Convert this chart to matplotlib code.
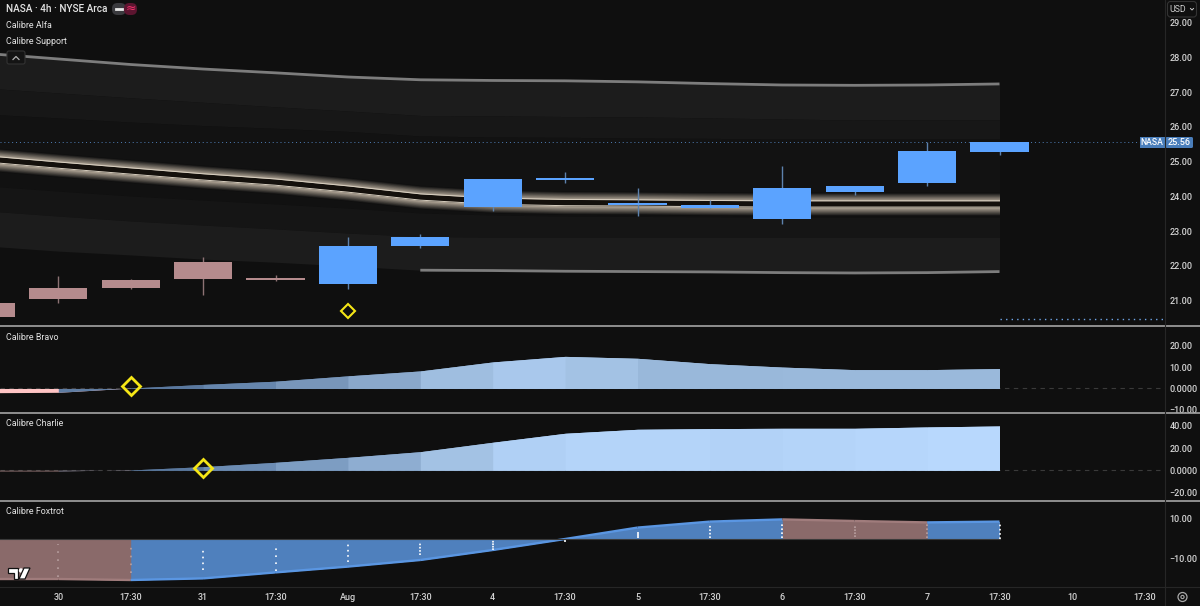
import numpy as np
import matplotlib
matplotlib.use('Agg')
import matplotlib.pyplot as plt
from matplotlib.patches import FancyBboxPatch, Rectangle, Polygon, Circle
from matplotlib.colors import to_rgb

plt.rcParams['font.family'] = ['Roboto', 'DejaVu Sans']

BG = '#0f0f0f'
AXIS_TEXT = '#d4d4d4'
BAR_STEP = 72.4
BAR_ZERO = 58.3

# bar index -1 is the cut off candle at the left edge
bars = np.arange(-1, 14)

opens = [20.52, 21.03, 21.35, 21.61, 21.58, 21.47, 22.57, 23.68, 24.47, 23.74, 23.66, 23.34, 24.12, 24.39, 25.28]
closes = [20.92, 21.37, 21.59, 22.10, 21.64, 22.57, 22.83, 24.51, 24.53, 23.81, 23.76, 24.23, 24.29, 25.32, 25.57]
highs = [20.92, 21.70, 21.61, 22.26, 21.72, 22.83, 22.91, 24.51, 24.70, 24.24, 23.89, 24.87, 24.30, 25.57, 25.57]
lows = [20.52, 20.92, 21.33, 21.15, 21.56, 21.33, 22.51, 23.58, 24.39, 23.44, 23.66, 23.21, 24.03, 24.30, 25.20]
candle_up = [False, False, False, False, False, True, True, True, True, True, True, True, True, True, True]

band_top = [28.12, 27.96, 27.80, 27.67, 27.56, 27.44, 27.36, 27.34, 27.33, 27.30, 27.25, 27.21, 27.20, 27.21, 27.24]
band_e1 = [27.12, 26.98, 26.84, 26.71, 26.58, 26.46, 26.33, 26.32, 26.30, 26.29, 26.26, 26.23, 26.20, 26.20, 26.20]
band_e2 = [26.37, 26.26, 26.14, 26.04, 25.96, 25.87, 25.74, 25.71, 25.70, 25.68, 25.67, 25.65, 25.65, 25.65, 25.65]
mid_upper = [25.17, 24.99, 24.82, 24.65, 24.50, 24.30, 24.07, 23.95, 23.91, 23.90, 23.88, 23.87, 23.87, 23.87, 23.87]
mid_lower = [24.99, 24.81, 24.64, 24.47, 24.32, 24.12, 23.89, 23.77, 23.73, 23.72, 23.70, 23.69, 23.69, 23.69, 23.69]
band_l1 = [24.30, 24.15, 24.01, 23.89, 23.78, 23.66, 23.52, 23.46, 23.43, 23.42, 23.41, 23.40, 23.40, 23.40, 23.40]
band_l2 = [23.58, 23.43, 23.29, 23.17, 23.06, 22.94, 22.84, 22.82, 22.82, 22.82, 22.82, 22.82, 22.82, 22.82, 22.82]
band_bottom = [22.57, 22.42, 22.31, 22.19, 22.10, 21.99, 21.87, 21.86, 21.84, 21.83, 21.82, 21.80, 21.79, 21.80, 21.83]

last_price = 25.56
low_marker = 20.46

bravo = [-2.0, -1.8, 0.2, 1.9, 3.4, 5.9, 8.2, 12.4, 15.0, 14.1, 11.6, 10.0, 8.8, 8.8, 9.3]
bravo_colors = ['#ffc4c4', '#5f7da3', '#5a789e', '#6686ad', '#7896ba', '#8aa8cb', '#9fbee0', '#a9c8ec',
                '#a3c2e4', '#99b8da', '#99b8da', '#9ab9db', '#9ab9db', '#9ab9db']
charlie = [-0.5, -0.5, 0.3, 3.3, 7.2, 11.7, 16.8, 25.3, 33.4, 37.0, 37.6, 37.9, 37.9, 39.1, 40.0]
charlie_colors = ['#d8a8a8', '#55708f', '#5a789e', '#6c8cb3', '#7d9dc2', '#8eadd1', '#a3c2e4', '#b0d0f5',
                  '#b4d4f9', '#b4d4f9', '#b2d2f7', '#b4d4f9', '#b6d6fb', '#b8d8fd']
foxtrot = [-20.0, -20.0, -20.5, -19.7, -16.7, -13.8, -10.5, -5.5, 0.0, 5.7, 8.7, 9.8, 9.0, 8.3, 8.7]
foxtrot_up = [False, False, True, True, True, True, True, True, True, True, True, False, False, True]
dot_high = [None, -2.7, -1.3, -3.8, -2.0, -1.0, -1.5, -0.5, -0.5, 3.7, 7.5, 8.5, 7.0, 8.5, 8.5]
dot_low = [None, -18.8, -17.0, -15.5, -16.0, -11.5, -8.0, -5.5, -1.5, 0.5, 0.5, 0.5, 1.0, 0.5, 0.0]
dot_pale = [True, True, True, False, False, False, False, False, False, False, False, False, True, True, False]

main_ticks = [21, 22, 23, 24, 25, 26, 27, 28, 29]
main_labels = ['21.00', '22.00', '23.00', '24.00', '25.00', '26.00', '27.00', '28.00', '29.00']
bravo_ticks = [-10, 0, 10, 20]
bravo_labels = ['\u221210.00', '0.0000', '10.00', '20.00']
charlie_ticks = [-20, 0, 20, 40]
charlie_labels = ['\u221220.00', '0.0000', '20.00', '40.00']
foxtrot_ticks = [-10, 10]
foxtrot_labels = ['\u221210.00', '10.00']
time_ticks = list(range(0, 16))
time_labels = ['30', '17:30', '31', '17:30', 'Aug', '17:30', '4', '17:30', '5', '17:30', '6', '17:30', '7', '17:30', '10', '17:30']


def panel(top, bottom, ylim, ticks, labels):
    ax = fig.add_axes([0, 1 - bottom / 606, 1165 / 1200, (bottom - top) / 606], facecolor=BG)
    ax.set_xlim(-BAR_ZERO / BAR_STEP, (1165 - BAR_ZERO) / BAR_STEP)
    ax.set_ylim(*ylim)
    ax.yaxis.tick_right()
    ax.set_yticks(ticks)
    ax.set_yticklabels(labels, fontsize=6.5, color=AXIS_TEXT, fontweight='medium')
    ax.tick_params(axis='y', length=0, pad=3.2)
    ax.set_xticks([])
    for spine in ax.spines.values():
        spine.set_visible(False)
    return ax


def shade(color, fade):
    rgb = np.array(to_rgb(color))
    back = np.array(to_rgb(BG))
    return tuple(rgb * (1 - fade) + back * fade)


def area_segments(ax, values, colors):
    # each piece runs one bar too far and the next one paints over it, so no seam shows
    for i, col in enumerate(colors):
        ax.fill_between(bars[i:i + 3], 0, values[i:i + 3], color=col, lw=0, zorder=2)


fig = plt.figure(figsize=(12, 6.06), dpi=100, facecolor=BG)

# price panel
ax = panel(0, 325, (20.29, 29.66), main_ticks, main_labels)
ax.fill_between(bars, band_e1, band_top, color='#1c1c1c', lw=0, zorder=1)
ax.fill_between(bars, band_e2, band_e1, color='#171717', lw=0, zorder=1)
ax.fill_between(bars, mid_upper, band_e2, color='#121212', lw=0, zorder=1)
ax.fill_between(bars, band_l1, mid_lower, color='#111111', lw=0, zorder=1)
ax.fill_between(bars, band_l2, band_l1, color='#151515', lw=0, zorder=1)
ax.fill_between(bars, band_bottom, band_l2, color='#1c1c1c', lw=0, zorder=1)

upper = np.array(mid_upper)
lower = np.array(mid_lower)
# glow round the middle channel, outermost step first
for offset in np.linspace(0.25, 0.02, 14):
    col = shade('#bcb0a0', offset / 0.25)
    ax.fill_between(bars, upper, upper + offset, color=col, lw=0, zorder=2)
    ax.fill_between(bars, lower - offset, lower, color=col, lw=0, zorder=2)
ax.fill_between(bars, lower, upper, color='#14100c', lw=0, zorder=2)
ax.plot(bars, upper, color='#d8cfc0', lw=0.7, zorder=2.5)
ax.plot(bars, lower, color='#d8cfc0', lw=0.7, zorder=2.5)

ax.plot(bars, band_top, color='#7d7d7d', lw=2, zorder=3, solid_capstyle='butt')
ax.plot(bars[6:], band_bottom[6:], color='#7d7d7d', lw=2, zorder=3, solid_capstyle='butt')

ax.axhline(last_price, color='#4f7fb8', lw=0.7, ls=(0, (1, 3)), zorder=4)
ax.plot([13, 15.33], [low_marker, low_marker], color='#6fa5e8', lw=1, ls=(0, (1, 3)), zorder=4)

for x, o, c, h, l, up in zip(bars, opens, closes, highs, lows, candle_up):
    body = '#5ba3ff' if up else '#b58b8d'
    wick = '#5d82ad' if up else '#8d7274'
    ax.vlines(x, l, h, color=wick, lw=1, zorder=5)
    ax.bar(x, c - o, bottom=o, width=0.805, color=body, lw=0, zorder=6)

ax.plot(4, 20.69, marker='D', ms=7, mfc='none', mec='#f5e616', mew=1.5, zorder=7)

# bravo panel
ax2 = panel(326, 412, (-11.0, 29.2), bravo_ticks, bravo_labels)
ax2.axhline(0, color='#3a3a3a', lw=0.8, ls=(0, (4, 4)), zorder=1)
area_segments(ax2, bravo, bravo_colors)
ax2.plot(1, 1.1, marker='D', ms=9.5, mfc='none', mec='#f5e616', mew=2, zorder=5)

# charlie panel
ax3 = panel(413, 500, (-26.8, 51.7), charlie_ticks, charlie_labels)
ax3.axhline(0, color='#3a3a3a', lw=0.8, ls=(0, (4, 4)), zorder=1)
area_segments(ax3, charlie, charlie_colors)
ax3.plot(2, 2.1, marker='D', ms=9.5, mfc='none', mec='#f5e616', mew=2, zorder=5)

# foxtrot panel, also carries the time axis
ax4 = panel(501, 587, (-24, 19), foxtrot_ticks, foxtrot_labels)
fox_fills = ['#4f80bd' if up else '#8a6a6a' for up in foxtrot_up]
area_segments(ax4, foxtrot, fox_fills)
for i, up in enumerate(foxtrot_up):
    edge = '#5a96e2' if up else '#a07c7c'
    ax4.plot(bars[i:i + 2], foxtrot[i:i + 2], color=edge, lw=1.7, zorder=3, solid_capstyle='butt')
ax4.plot([-1, 13], [0, 0], color='#3a3a3a', lw=0.8, zorder=3)
for x, hi, lo, pale in zip(bars, dot_high, dot_low, dot_pale):
    if hi is None:
        continue
    col = '#b8a0a0' if pale else '#ffffff'
    # each column holds about five dots, so tight columns read as solid
    period = (hi - lo) * 2 / 4 / 1.67
    on = 1.0
    style = (0, (on, max(period - on, 0.01)))
    ax4.vlines(x, lo, hi, color=col, lw=1.2, ls=style, zorder=4)
ax4.set_xticks(time_ticks)
ax4.set_xticklabels(time_labels, fontsize=6.5, color=AXIS_TEXT, fontweight='medium')
ax4.tick_params(axis='x', length=0, pad=4.5)

# interface bits, in pixel coordinates
ui = fig.add_axes([0, 0, 1, 1], facecolor='none')
ui.set_xlim(0, 1200)
ui.set_ylim(606, 0)
ui.axis('off')

for y in [325.5, 412.5, 500.5]:
    ui.plot([0, 1200], [y, y], color='#a4a4a4', lw=1.2)
ui.plot([0, 1200], [587, 587], color='#262626', lw=0.8)
ui.plot([1165, 1165], [0, 606], color='#262626', lw=0.8)

ui.text(6, 9, 'NASA \u00b7 4h \u00b7 NYSE Arca', fontsize=7.2, color='#e4e4e4', va='center', fontweight='medium')
ui.text(6, 25, 'Calibre Alfa', fontsize=6.4, color='#e4e4e4', va='center')
ui.text(6, 41, 'Calibre Support', fontsize=6.4, color='#e4e4e4', va='center')
ui.text(6, 337, 'Calibre Bravo', fontsize=6.4, color='#e4e4e4', va='center')
ui.text(6, 424, 'Calibre Charlie', fontsize=6.4, color='#e4e4e4', va='center')
ui.text(6, 511, 'Calibre Foxtrot', fontsize=6.4, color='#e4e4e4', va='center')

# status pill
ui.add_patch(FancyBboxPatch((112, 3), 14, 12, boxstyle='round,pad=0,rounding_size=5.5', fc='#3a3a3e', ec='none'))
ui.add_patch(FancyBboxPatch((124, 3), 13, 12, boxstyle='round,pad=0,rounding_size=5.5', fc='#5c1530', ec='none'))
ui.plot([116, 121.5], [9, 9], color='#e8e8e8', lw=2)
ui.text(130.5, 8.5, '\u2248', fontsize=9, color='#f0306a', ha='center', va='center', family='DejaVu Sans')

# collapse button
ui.add_patch(FancyBboxPatch((7, 51), 18, 13, boxstyle='round,pad=0,rounding_size=2', fc='#141414', ec='#333333', lw=0.8))
ui.plot([13, 16, 19], [59.5, 56.5, 59.5], color='#b0b0b0', lw=0.9)

# price tags
ui.add_patch(Rectangle((1140, 137), 24.5, 11, fc='#4a7ebb', ec='none'))
ui.add_patch(FancyBboxPatch((1165.5, 137), 27.5, 11, boxstyle='round,pad=0,rounding_size=1.5', fc='#4a7ebb', ec='none'))
ui.text(1152, 142.5, 'NASA', fontsize=6.2, color='#ffffff', ha='center', va='center', fontweight='medium')
ui.text(1179.5, 142.5, '25.56', fontsize=6.5, color='#ffffff', ha='center', va='center', fontweight='medium')

# currency button
ui.add_patch(FancyBboxPatch((1167.5, 1.5), 29, 15.5, boxstyle='round,pad=0,rounding_size=3', fc='#0f0f0f', ec='#333333', lw=0.8, zorder=5))
ui.text(1169.5, 9, 'USD', fontsize=6.3, color='#cfcfcf', va='center', zorder=6)
ui.plot([1190.5, 1192, 1193.5], [8.5, 10, 8.5], color='#cfcfcf', lw=0.7, zorder=6)

# chart logo
ui.add_patch(Polygon([(8, 568), (18, 568), (18, 579), (13.5, 579), (13.5, 573), (8, 573)], fc='#ffffff', ec='#111111', lw=0.9, zorder=6))
ui.add_patch(Circle((21, 570.5), 2.2, fc='#ffffff', ec='none', zorder=6))
ui.add_patch(Polygon([(24, 568), (30, 568), (25, 579), (19, 579)], fc='#ffffff', ec='#111111', lw=0.9, zorder=6))

# settings icon
ui.add_patch(Circle((1182.5, 597), 4.5, fc='none', ec='#a8a8a8', lw=0.9))
ui.add_patch(Circle((1182.5, 597), 1.6, fc='none', ec='#a8a8a8', lw=0.8))

fig.savefig('out.png', dpi=100, facecolor=BG)
